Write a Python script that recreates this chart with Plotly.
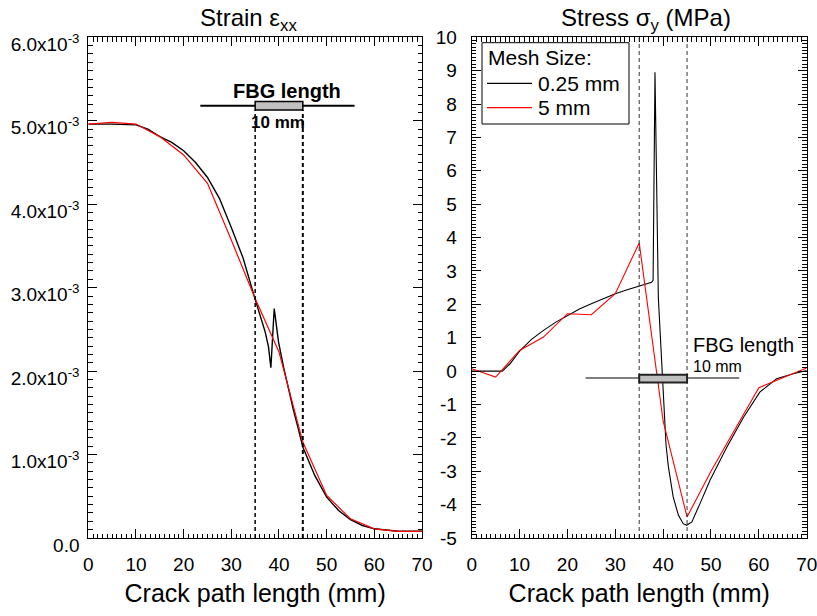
import plotly.graph_objects as go

# ---------------- data ----------------
# Strain (left panel), fine mesh 0.25 mm
strain_fine_x = [0, 5, 10, 12.5, 15, 17.5, 20, 22.5, 25, 27.5, 30, 32.5, 35, 36, 37.1, 37.8, 38.3, 39.0,
                 39.9, 40.95, 42.4, 43, 44, 45, 47.5, 50, 52.5, 55, 57.5, 60, 65, 70]
strain_fine_y = [4.96e-3, 4.96e-3, 4.95e-3, 4.90e-3, 4.81e-3, 4.74e-3, 4.64e-3, 4.50e-3, 4.32e-3, 4.07e-3,
                 3.72e-3, 3.35e-3, 2.86e-3, 2.68e-3, 2.47e-3, 2.29e-3, 2.04e-3, 2.75e-3,
                 2.35e-3, 2.05e-3, 1.67e-3, 1.54e-3, 1.32e-3, 1.09e-3, 0.75e-3, 0.49e-3, 0.33e-3, 0.22e-3,
                 0.15e-3, 0.11e-3, 0.08e-3, 0.08e-3]
# Strain, coarse mesh 5 mm
strain_coarse_x = [0, 5, 10, 15, 20, 25, 30, 35, 40, 45, 50, 55, 60, 65, 70]
strain_coarse_y = [4.96e-3, 4.98e-3, 4.96e-3, 4.81e-3, 4.59e-3, 4.25e-3, 3.57e-3, 2.87e-3, 2.23e-3,
                   1.15e-3, 0.51e-3, 0.23e-3, 0.11e-3, 0.08e-3, 0.08e-3]

# Stress (right panel), fine mesh 0.25 mm
stress_fine_x = [0, 6.4, 8, 10, 12.5, 15, 17.5, 20, 22.5, 25, 27.5, 30, 32.5, 35, 37.6, 37.9, 38.3,
                 39.0, 39.5, 39.9, 40.3, 40.6, 41.1, 42.1, 43.2, 44.2, 44.9, 46.0, 47.7, 49.8, 53.3,
                 56.8, 60.2, 63.7, 67.2, 70]
stress_fine_y = [0.0, 0.0, 0.22, 0.6, 0.95, 1.22, 1.46, 1.67, 1.86, 2.02, 2.18, 2.32, 2.44, 2.54, 2.66,
                 2.72, 8.95, 2.2, 0.9, -0.2, -1.3, -2.2, -2.87, -3.77, -4.32, -4.57, -4.62, -4.52, -3.97,
                 -3.27, -2.28, -1.38, -0.63, -0.23, -0.08, 0.02]
# Stress, coarse mesh 5 mm
stress_coarse_x = [0, 5, 10, 15, 20, 25, 30, 35, 40, 45, 50, 55, 60, 65, 70]
stress_coarse_y = [0.07, -0.18, 0.62, 1.02, 1.72, 1.69, 2.32, 3.84, -1.49, -4.37, -3.0, -1.75, -0.5,
                   -0.2, 0.09]

series_names = ["0.25 mm", "5 mm"]
series_colors = ["black", "red"]
legend_title = "Mesh Size:"

# FBG sensor extent
fbg_start, fbg_end = 35, 45
fbg_label = "FBG length"
fbg_size_label = "10 mm"

# tick labels
x_ticks = [0, 10, 20, 30, 40, 50, 60, 70]
strain_ticks = [0, 1e-3, 2e-3, 3e-3, 4e-3, 5e-3, 6e-3]
strain_ticktext = ["0.0", "1.0x10<sup>-3</sup>", "2.0x10<sup>-3</sup>", "3.0x10<sup>-3</sup>",
                   "4.0x10<sup>-3</sup>", "5.0x10<sup>-3</sup>", "6.0x10<sup>-3</sup>"]
stress_ticks = list(range(-5, 11))
stress_ticktext = [str(v) for v in stress_ticks]

# ---------------- figure ----------------
W, H = 817, 616
FONT = "Arial, 'Liberation Sans', Helvetica, sans-serif"

def px_x(p):
    return p / W

def px_y(p):
    return 1 - p / H

fig = go.Figure()

fig.add_trace(go.Scatter(x=strain_fine_x, y=strain_fine_y, mode="lines", name=series_names[0],
                         line=dict(color=series_colors[0], width=1.4), xaxis="x", yaxis="y"))
fig.add_trace(go.Scatter(x=strain_coarse_x, y=strain_coarse_y, mode="lines", name=series_names[1],
                         line=dict(color=series_colors[1], width=1.2), xaxis="x", yaxis="y"))
fig.add_trace(go.Scatter(x=stress_fine_x, y=stress_fine_y, mode="lines", name=series_names[0],
                         line=dict(color=series_colors[0], width=1.1), xaxis="x2", yaxis="y2"))
fig.add_trace(go.Scatter(x=stress_coarse_x, y=stress_coarse_y, mode="lines", name=series_names[1],
                         line=dict(color=series_colors[1], width=1.1), xaxis="x2", yaxis="y2"))

dom_y = [px_y(538), px_y(37.3)]
common_axis = dict(showline=True, linecolor="black", linewidth=1, mirror="allticks",
                   ticks="inside", ticklen=9, tickwidth=1, tickcolor="black",
                   showgrid=False, zeroline=False, automargin=False, ticklabeloverflow="allow",
                   tickfont=dict(family=FONT, size=19, color="black"))

xaxis_common = dict(common_axis, range=[0, 70], tickmode="array", tickvals=x_ticks,
                    ticklabelstandoff=9,
                    minor=dict(dtick=1, tick0=0, ticks="inside", ticklen=4.5, tickcolor="black", tickwidth=1),
                    title=dict(text="Crack path length (mm)", font=dict(family=FONT, size=25, color="black"),
                               standoff=10))

fig.update_layout(
    width=W, height=H,
    margin=dict(l=0, r=0, t=0, b=0, pad=0, autoexpand=False),
    paper_bgcolor="white", plot_bgcolor="white",
    font=dict(family=FONT, color="black"),
    showlegend=False,
    xaxis=dict(xaxis_common, domain=[px_x(88.3), px_x(422)], anchor="y"),
    yaxis=dict(common_axis, domain=dom_y, range=[0, 6e-3], anchor="x",
               tickmode="array", tickvals=strain_ticks, ticktext=strain_ticktext,
               ticklabelstandoff=4, ticklabelshift=7,
               minor=dict(dtick=1e-4, tick0=0, ticks="inside", ticklen=4.5, tickcolor="black", tickwidth=1)),
    xaxis2=dict(xaxis_common, domain=[px_x(471.7), px_x(806.7)], anchor="y2"),
    yaxis2=dict(common_axis, domain=dom_y, range=[-5, 10], anchor="x2",
                tickmode="array", tickvals=stress_ticks, ticktext=stress_ticktext,
                ticklabelstandoff=10,
                minor=dict(dtick=0.1, tick0=0, ticks="inside", ticklen=4.5, tickcolor="black", tickwidth=1)),
)

shapes = []
# left panel: dashed markers of FBG extent
for xv, w in ((fbg_start, 1.5), (fbg_end, 2)):
    shapes.append(dict(type="line", xref="x", yref="y", x0=xv, x1=xv, y0=0, y1=5.13e-3,
                       line=dict(color="black", width=w, dash="4px,3px")))
# left FBG bar
shapes.append(dict(type="line", xref="x", yref="y", x0=23.5, x1=55.85, y0=5.18e-3, y1=5.18e-3,
                   line=dict(color="black", width=2)))
shapes.append(dict(type="rect", xref="x", yref="y", x0=fbg_start, x1=fbg_end, y0=5.13e-3, y1=5.23e-3,
                   fillcolor="#c0c0c0", line=dict(color="black", width=1.5)))
# right panel dashed lines
for xv in (fbg_start, fbg_end):
    shapes.append(dict(type="line", xref="x2", yref="y2 domain", x0=xv, x1=xv, y0=0, y1=1,
                       line=dict(color="#333333", width=1, dash="4px,3px")))
# right FBG bar
shapes.append(dict(type="line", xref="x2", yref="y2", x0=23.8, x1=55.9, y0=-0.21, y1=-0.21,
                   line=dict(color="#555555", width=1.5)))
shapes.append(dict(type="rect", xref="x2", yref="y2", x0=fbg_start, x1=fbg_end, y0=-0.34, y1=-0.11,
                   fillcolor="#bfbfbf", line=dict(color="#222222", width=2)))

# legend box (drawn as a boxed key in the stress panel)
shapes.append(dict(type="rect", xref="paper", yref="paper", x0=px_x(482), x1=px_x(629),
                   y0=px_y(124), y1=px_y(42.7), fillcolor="white", line=dict(color="black", width=1),
                   layer="above"))
legend_rows_y = [83.3, 107.7]
for c, yy in zip(series_colors, legend_rows_y):
    shapes.append(dict(type="line", xref="paper", yref="paper", x0=px_x(487), x1=px_x(532),
                       y0=px_y(yy), y1=px_y(yy), line=dict(color=c, width=1.2), layer="above"))
fig.update_layout(shapes=shapes)

ann = []
ann.append(dict(text="Strain \u03b5<sub>xx</sub>", xref="paper", yref="paper", x=px_x(248.7), y=px_y(19),
                xanchor="center", yanchor="middle", showarrow=False,
                font=dict(family=FONT, size=24, color="black")))
ann.append(dict(text="Stress \u03c3<sub>y</sub> (MPa)", xref="paper", yref="paper", x=px_x(645.8), y=px_y(19),
                xanchor="center", yanchor="middle", showarrow=False,
                font=dict(family=FONT, size=24, color="black")))
ann.append(dict(text="<b>" + fbg_label + "</b>", xref="x", yref="y", x=41.7, y=5.36e-3,
                xanchor="center", yanchor="middle", showarrow=False,
                font=dict(family=FONT, size=20, color="black")))
ann.append(dict(text="<b>" + fbg_size_label + "</b>", xref="x", yref="y", x=39.7, y=4.98e-3,
                xanchor="center", yanchor="middle", showarrow=False,
                font=dict(family=FONT, size=17, color="black")))
ann.append(dict(text=fbg_label, xref="x2", yref="y2", x=45.8, y=0.77,
                xanchor="left", yanchor="middle", showarrow=False,
                font=dict(family=FONT, size=20, color="black")))
ann.append(dict(text=fbg_size_label, xref="x2", yref="y2", x=45.8, y=0.15,
                xanchor="left", yanchor="middle", showarrow=False,
                font=dict(family=FONT, size=16, color="black")))
# legend texts
ann.append(dict(text=legend_title, xref="paper", yref="paper", x=px_x(486), y=px_y(57),
                xanchor="left", yanchor="middle", showarrow=False,
                font=dict(family=FONT, size=21, color="black")))
for name, yy in zip(series_names, legend_rows_y):
    ann.append(dict(text=name, xref="paper", yref="paper", x=px_x(536), y=px_y(yy),
                    xanchor="left", yanchor="middle", showarrow=False,
                    font=dict(family=FONT, size=21, color="black")))
fig.update_layout(annotations=ann)

fig.write_html("out.html", config={"displayModeBar": False},
               post_script="document.body.style.margin='0';document.body.style.padding='0';")
